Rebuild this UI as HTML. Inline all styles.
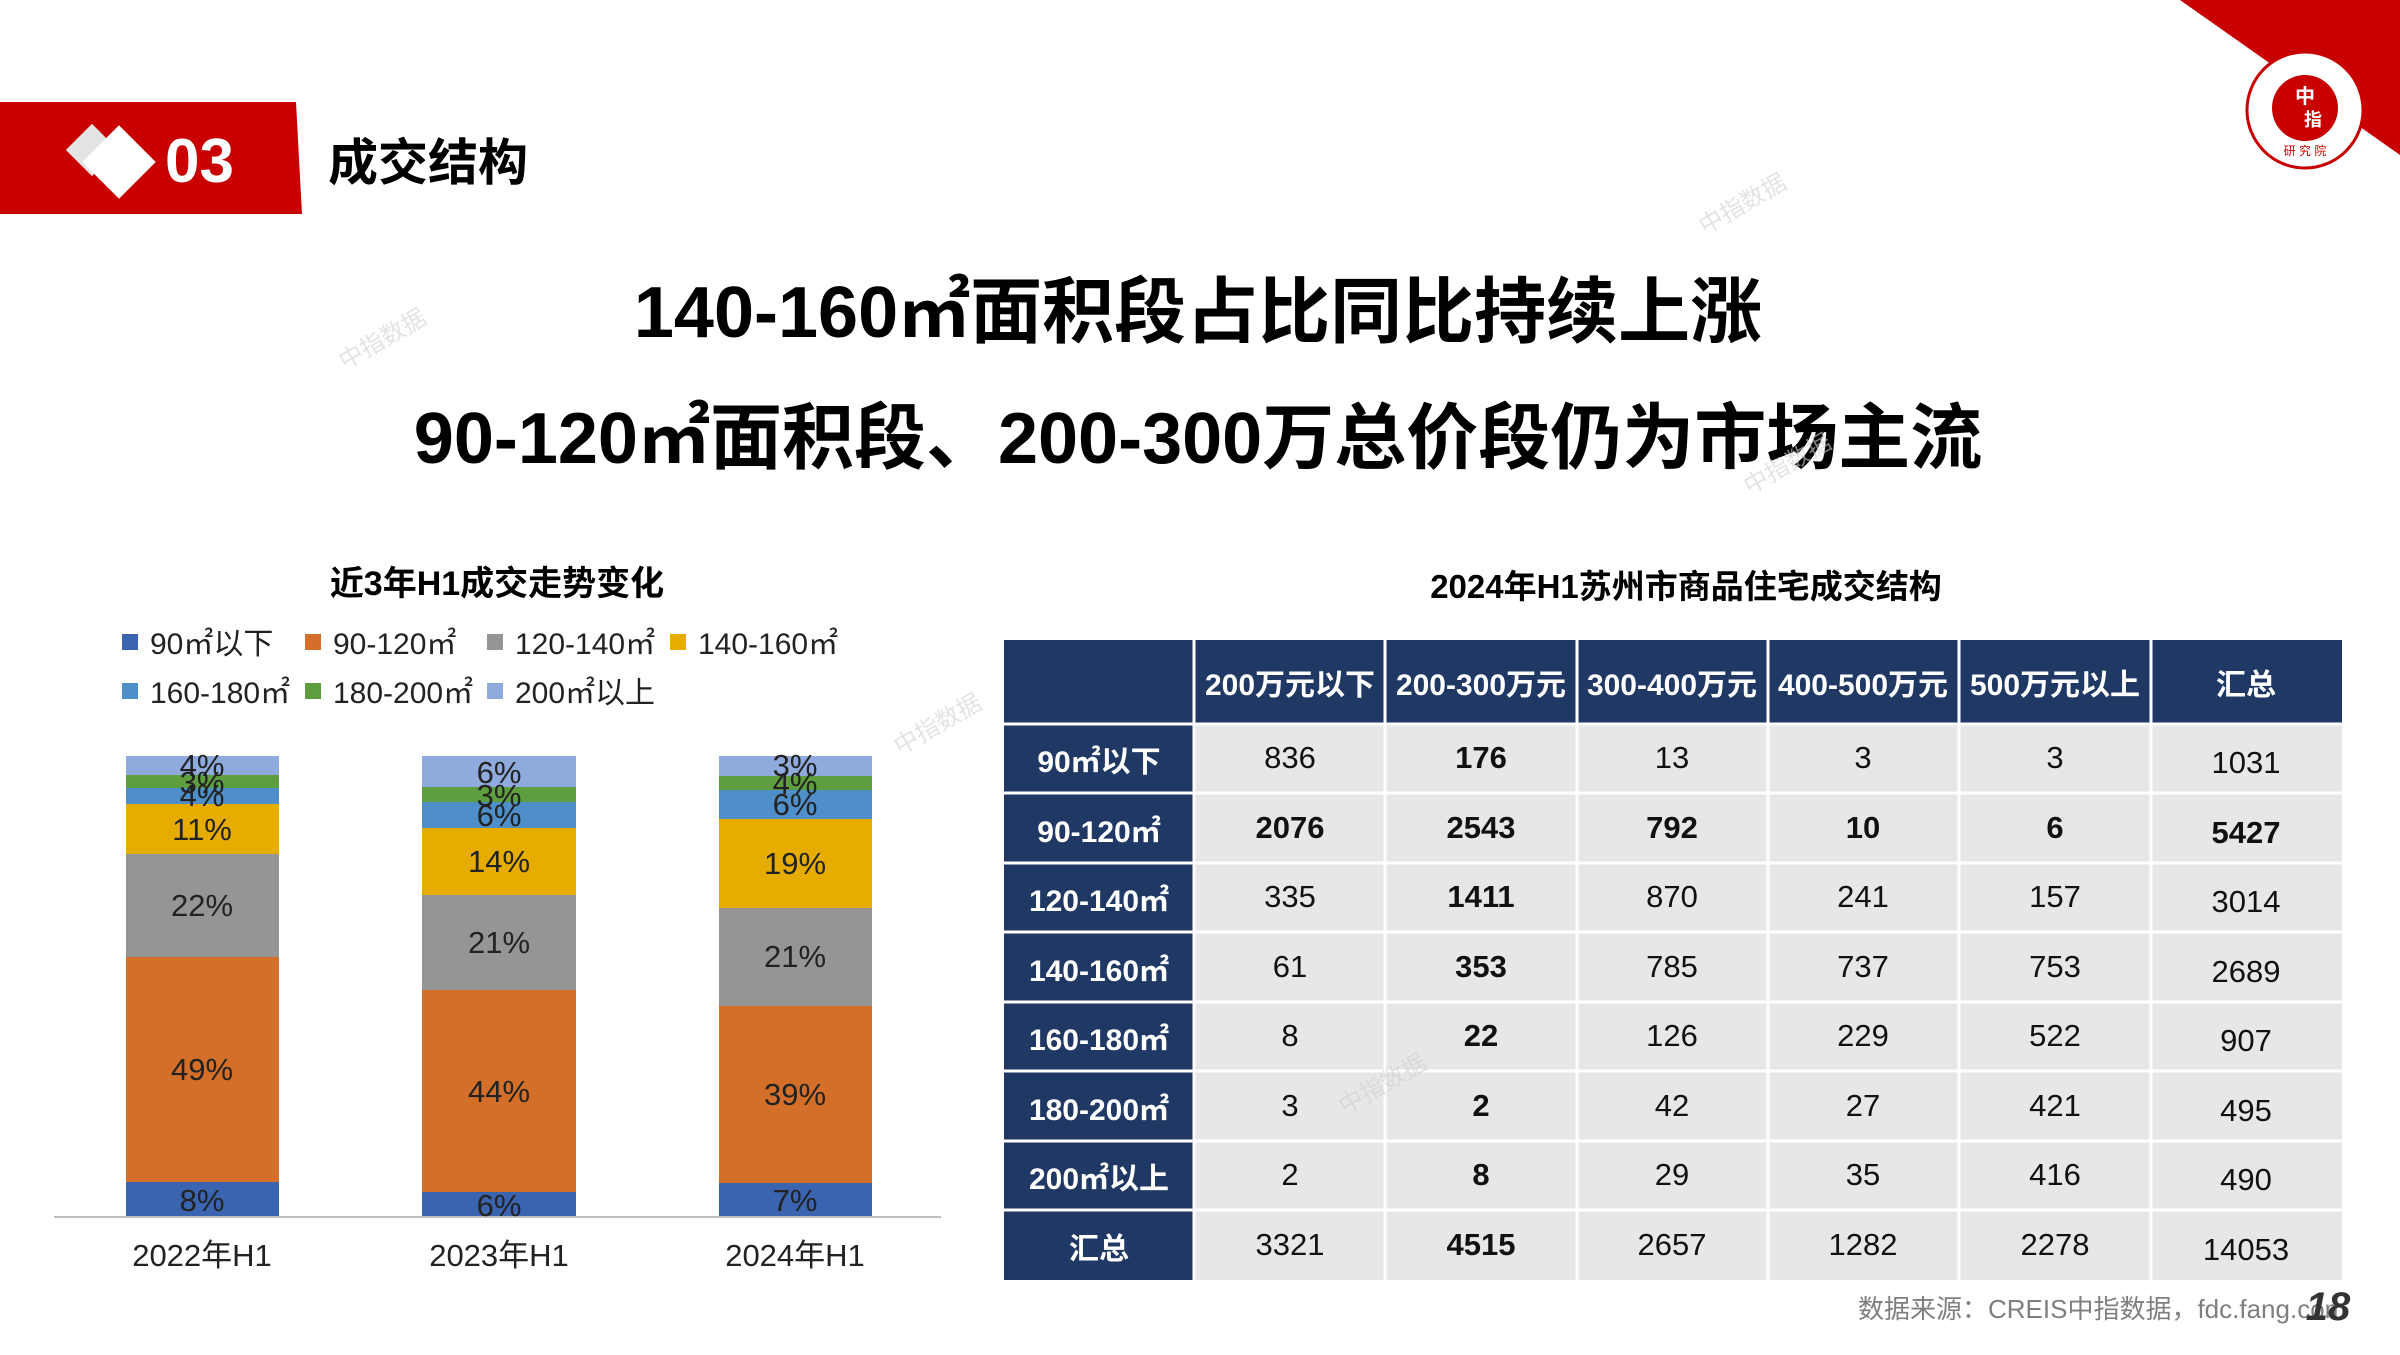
<!DOCTYPE html>
<html><head><meta charset="utf-8"><style>
html,body{margin:0;padding:0;background:#fff;}
body{width:2400px;height:1350px;overflow:hidden;position:relative;font-family:"Liberation Sans","Noto Sans CJK SC",sans-serif;}
svg text{font-family:"Liberation Sans","Noto Sans CJK SC",sans-serif;}
</style></head><body>
<svg width="2400" height="1350" viewBox="0 0 2400 1350" xmlns="http://www.w3.org/2000/svg">
<!-- header -->
<polygon points="0,102 296,102 302,214 0,214" fill="#c80000"/>
<rect x="73.5" y="131.5" width="37" height="37" transform="rotate(45 92 150)" fill="#e4e4e4"/>
<rect x="93" y="136" width="52" height="52" transform="rotate(45 119 162)" fill="#ffffff"/>
<text x="165" y="182" font-size="62" font-weight="bold" fill="#fff">03</text>
<text x="328" y="180" font-size="50" font-weight="bold" fill="#000">成交结构</text>
<!-- logo -->
<polygon points="2180,0 2400,0 2400,155" fill="#c80000"/>
<circle cx="2305" cy="110" r="58" fill="#fff" stroke="#c80000" stroke-width="3"/>
<circle cx="2305" cy="108" r="33" fill="#c80000"/>
<text x="2305" y="103" font-size="20" font-weight="bold" fill="#fff" text-anchor="middle">中</text>
<text x="2313" y="126" font-size="18" font-weight="bold" fill="#fff" text-anchor="middle">指</text>
<text x="2305" y="155" font-size="12" fill="#c80000" text-anchor="middle">研 究 院</text>
<!-- titles -->
<text x="1198" y="337" font-size="72" font-weight="bold" fill="#000" text-anchor="middle">140-160㎡面积段占比同比持续上涨</text>
<text x="1198" y="463" font-size="72" font-weight="bold" fill="#000" text-anchor="middle">90-120㎡面积段、200-300万总价段仍为市场主流</text>
<!-- chart title -->
<text x="497" y="595" font-size="34" font-weight="bold" fill="#000" text-anchor="middle">近3年H1成交走势变化</text>
<!-- legend -->
<g font-size="30" fill="#222">
<rect x="122" y="634" width="16" height="16" fill="#3a64b0"/><text x="150" y="654">90㎡以下</text>
<rect x="305" y="634" width="16" height="16" fill="#d46f2a"/><text x="333" y="654">90-120㎡</text>
<rect x="487" y="634" width="16" height="16" fill="#959595"/><text x="515" y="654">120-140㎡</text>
<rect x="670" y="634" width="16" height="16" fill="#e6ad00"/><text x="698" y="654">140-160㎡</text>
<rect x="122" y="683" width="16" height="16" fill="#4f8fc9"/><text x="150" y="703">160-180㎡</text>
<rect x="305" y="683" width="16" height="16" fill="#5f9e3f"/><text x="333" y="703">180-200㎡</text>
<rect x="487" y="683" width="16" height="16" fill="#8faadc"/><text x="515" y="703">200㎡以上</text>
</g>
<!-- bars -->
<g>
<rect x="126" y="1182" width="153" height="35" fill="#3a64b0"/>
<rect x="126" y="957" width="153" height="225" fill="#d46f2a"/>
<rect x="126" y="854" width="153" height="103" fill="#959595"/>
<rect x="126" y="804" width="153" height="50" fill="#e6ad00"/>
<rect x="126" y="788" width="153" height="16" fill="#4f8fc9"/>
<rect x="126" y="775" width="153" height="13" fill="#5f9e3f"/>
<rect x="126" y="756" width="153" height="19" fill="#8faadc"/>

<rect x="422" y="1192" width="154" height="25" fill="#3a64b0"/>
<rect x="422" y="990" width="154" height="202" fill="#d46f2a"/>
<rect x="422" y="895" width="154" height="95" fill="#959595"/>
<rect x="422" y="828" width="154" height="67" fill="#e6ad00"/>
<rect x="422" y="802" width="154" height="26" fill="#4f8fc9"/>
<rect x="422" y="787" width="154" height="15" fill="#5f9e3f"/>
<rect x="422" y="756" width="154" height="31" fill="#8faadc"/>

<rect x="719" y="1183" width="153" height="34" fill="#3a64b0"/>
<rect x="719" y="1006" width="153" height="177" fill="#d46f2a"/>
<rect x="719" y="908" width="153" height="98" fill="#959595"/>
<rect x="719" y="819" width="153" height="89" fill="#e6ad00"/>
<rect x="719" y="790" width="153" height="29" fill="#4f8fc9"/>
<rect x="719" y="776" width="153" height="14" fill="#5f9e3f"/>
<rect x="719" y="756" width="153" height="20" fill="#8faadc"/>
</g>
<line x1="54" y1="1217" x2="941" y2="1217" stroke="#bfbfbf" stroke-width="2"/>
<g font-size="31" fill="#222" text-anchor="middle">
<text x="202" y="1211">8%</text><text x="202" y="1080">49%</text><text x="202" y="916">22%</text><text x="202" y="840">11%</text><text x="202" y="806">4%</text><text x="202" y="793">3%</text><text x="202" y="776">4%</text>
<text x="499" y="1216">6%</text><text x="499" y="1102">44%</text><text x="499" y="953">21%</text><text x="499" y="872">14%</text><text x="499" y="826">6%</text><text x="499" y="806">3%</text><text x="499" y="783">6%</text>
<text x="795" y="1211">7%</text><text x="795" y="1105">39%</text><text x="795" y="967">21%</text><text x="795" y="874">19%</text><text x="795" y="815">6%</text><text x="795" y="794">4%</text><text x="795" y="776">3%</text>
<text x="202" y="1266">2022年H1</text><text x="499" y="1266">2023年H1</text><text x="795" y="1266">2024年H1</text>
</g>
<!-- table title -->
<text x="1686" y="598" font-size="33" font-weight="bold" fill="#000" text-anchor="middle">2024年H1苏州市商品住宅成交结构</text>
<!-- table -->
<rect x="1004" y="640" width="1338" height="640" fill="#fff"/>
<g fill="#1f3864">
<rect x="1004" y="640" width="1338" height="84"/>
<rect x="1004" y="724" width="190" height="556"/>
</g>
<rect x="1194" y="724" width="1148" height="556" fill="#e7e6e8"/>
<g stroke="#fff" stroke-width="3">
<line x1="1194" y1="640" x2="1194" y2="1280"/><line x1="1385" y1="640" x2="1385" y2="1280"/><line x1="1577" y1="640" x2="1577" y2="1280"/><line x1="1768" y1="640" x2="1768" y2="1280"/><line x1="1959" y1="640" x2="1959" y2="1280"/><line x1="2151" y1="640" x2="2151" y2="1280"/>
<line x1="1004" y1="724" x2="2342" y2="724"/><line x1="1004" y1="793" x2="2342" y2="793"/><line x1="1004" y1="863" x2="2342" y2="863"/><line x1="1004" y1="932" x2="2342" y2="932"/><line x1="1004" y1="1002" x2="2342" y2="1002"/><line x1="1004" y1="1071" x2="2342" y2="1071"/><line x1="1004" y1="1141" x2="2342" y2="1141"/><line x1="1004" y1="1210" x2="2342" y2="1210"/>
</g>
<g font-size="30" font-weight="bold" fill="#fff" text-anchor="middle">
<text x="1290" y="695">200万元以下</text><text x="1481" y="695">200-300万元</text><text x="1672" y="695">300-400万元</text><text x="1863" y="695">400-500万元</text><text x="2055" y="695">500万元以上</text><text x="2246" y="695">汇总</text>
<text x="1099" y="772">90㎡以下</text><text x="1099" y="842">90-120㎡</text><text x="1099" y="911">120-140㎡</text><text x="1099" y="981">140-160㎡</text><text x="1099" y="1050">160-180㎡</text><text x="1099" y="1120">180-200㎡</text><text x="1099" y="1189">200㎡以上</text><text x="1099" y="1259">汇总</text>
</g>
<g font-size="31" fill="#111" text-anchor="middle">
<text x="1290" y="768">836</text><text x="1481" y="768" font-weight="bold">176</text><text x="1672" y="768">13</text><text x="1863" y="768">3</text><text x="2055" y="768">3</text><text x="2246" y="773">1031</text>
<g font-weight="bold"><text x="1290" y="838">2076</text><text x="1481" y="838">2543</text><text x="1672" y="838">792</text><text x="1863" y="838">10</text><text x="2055" y="838">6</text><text x="2246" y="843">5427</text></g>
<text x="1290" y="907">335</text><text x="1481" y="907" font-weight="bold">1411</text><text x="1672" y="907">870</text><text x="1863" y="907">241</text><text x="2055" y="907">157</text><text x="2246" y="912">3014</text>
<text x="1290" y="977">61</text><text x="1481" y="977" font-weight="bold">353</text><text x="1672" y="977">785</text><text x="1863" y="977">737</text><text x="2055" y="977">753</text><text x="2246" y="982">2689</text>
<text x="1290" y="1046">8</text><text x="1481" y="1046" font-weight="bold">22</text><text x="1672" y="1046">126</text><text x="1863" y="1046">229</text><text x="2055" y="1046">522</text><text x="2246" y="1051">907</text>
<text x="1290" y="1116">3</text><text x="1481" y="1116" font-weight="bold">2</text><text x="1672" y="1116">42</text><text x="1863" y="1116">27</text><text x="2055" y="1116">421</text><text x="2246" y="1121">495</text>
<text x="1290" y="1185">2</text><text x="1481" y="1185" font-weight="bold">8</text><text x="1672" y="1185">29</text><text x="1863" y="1185">35</text><text x="2055" y="1185">416</text><text x="2246" y="1190">490</text>
<text x="1290" y="1255">3321</text><text x="1481" y="1255" font-weight="bold">4515</text><text x="1672" y="1255">2657</text><text x="1863" y="1255">1282</text><text x="2055" y="1255">2278</text><text x="2246" y="1260">14053</text>
</g>
<!-- source -->
<text x="1858" y="1318" font-size="26" fill="#7f7f7f">数据来源：CREIS中指数据，fdc.fang.com</text>
<text x="2328" y="1320" font-size="40" font-weight="bold" font-style="italic" fill="#333" text-anchor="middle">18</text>
<!-- watermarks -->
<g font-size="24" fill="#d0d0d0" opacity="0.6">
<text x="1705" y="235" transform="rotate(-30 1705 235)">中指数据</text>
<text x="345" y="370" transform="rotate(-30 345 370)">中指数据</text>
<text x="1750" y="495" transform="rotate(-30 1750 495)">中指数据</text>
<text x="900" y="755" transform="rotate(-30 900 755)">中指数据</text>
<text x="1345" y="1115" transform="rotate(-30 1345 1115)">中指数据</text>
</g>
</svg>
</body></html>
